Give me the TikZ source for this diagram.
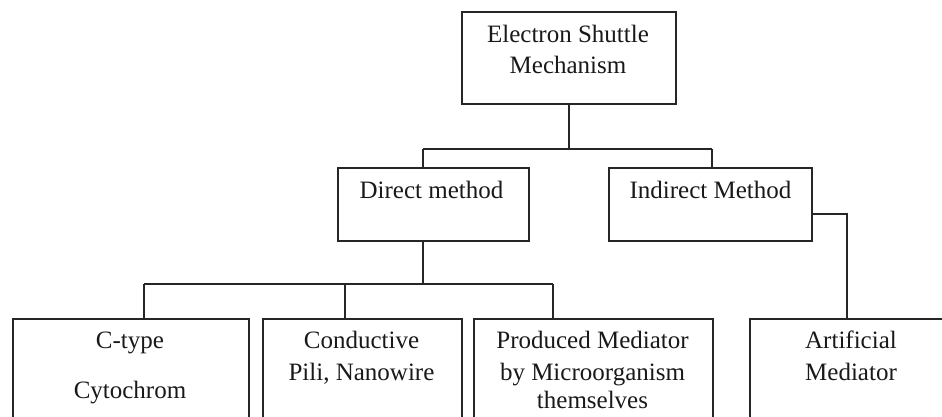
\documentclass[tikz,border=0pt]{standalone}
\usepackage{fontspec}
\setmainfont{Liberation Serif}
\begin{document}
\begin{tikzpicture}[x=1pt,y=-1pt,
  boxnode/.style={draw=black!85,line width=1.9pt,rectangle,inner sep=0pt,anchor=north west},
  conn/.style={draw=black!85,line width=1.3pt},
  lbl/.style={anchor=base,inner sep=0pt,font=\fontsize{25}{31}\selectfont,text=black!90}]
\useasboundingbox (0,0) rectangle (942,416);
\clip (0,0) rectangle (942,416);
\renewcommand{\arraystretch}{1}
% boxes
\node[boxnode,minimum width=214pt,minimum height=92pt] (top) at (461,11) {};
\node[boxnode,minimum width=191pt,minimum height=73pt] (direct) at (337,167) {};
\node[boxnode,minimum width=203pt,minimum height=73pt] (indirect) at (608,167) {};
\node[boxnode,minimum width=236pt,minimum height=140pt] (ctype) at (12,318) {};
\node[boxnode,minimum width=199pt,minimum height=140pt] (pili) at (262,318) {};
\node[boxnode,minimum width=239pt,minimum height=140pt] (produced) at (473,318) {};
\node[boxnode,minimum width=204pt,minimum height=140pt] (artificial) at (749,318) {};
% labels
\node[lbl] (ttop) at (568,42) {\begin{tabular}[t]{@{}c@{}}Electron Shuttle\\Mechanism\end{tabular}};
\node[lbl] (tdirect) at (431.5,198) {Direct method};
\node[lbl] (tindirect) at (710.5,198) {Indirect Method};
\node[lbl] (tctype) at (130,348) {\begin{tabular}[t]{@{}c@{}}C-type\\[19pt]Cytochrom\end{tabular}};
\node[lbl] (tpili) at (361.5,348) {\begin{tabular}[t]{@{}c@{}}Conductive\\[1pt]Pili, Nanowire\end{tabular}};
\node[lbl] (tproduced) at (592.5,348) {\begin{tabular}[t]{@{}c@{}}Produced Mediator\\[1pt]by Microorganism\\[-3pt]themselves\end{tabular}};
\node[lbl] (tartificial) at (851,348) {\begin{tabular}[t]{@{}c@{}}Artificial\\[1pt]Mediator\end{tabular}};
% junction coordinates
\coordinate (a1) at (423,149);
\coordinate (a2) at (712,149);
\coordinate (b0) at (423,284);
\coordinate (b1) at (144,284);
\coordinate (b2) at (345,284);
\coordinate (b3) at (553,284);
\coordinate (c1) at (847,214);
% connectors
\draw[conn] (top.south) -- (top.south |- a1);
\draw[conn] (a1) -- (a2);
\draw[conn] (a1) -- (a1 |- direct.north);
\draw[conn] (a2) -- (a2 |- indirect.north);
\draw[conn,line width=1.9pt] (b0 |- direct.south) -- (b0);
\draw[conn] (b1) -- (b3);
\draw[conn] (b1) -- (b1 |- ctype.north);
\draw[conn] (b2) -- (b2 |- pili.north);
\draw[conn] (b3) -- (b3 |- produced.north);
\draw[conn] (indirect.east |- c1) -- (c1) -- (c1 |- artificial.north);
\end{tikzpicture}
\end{document}
